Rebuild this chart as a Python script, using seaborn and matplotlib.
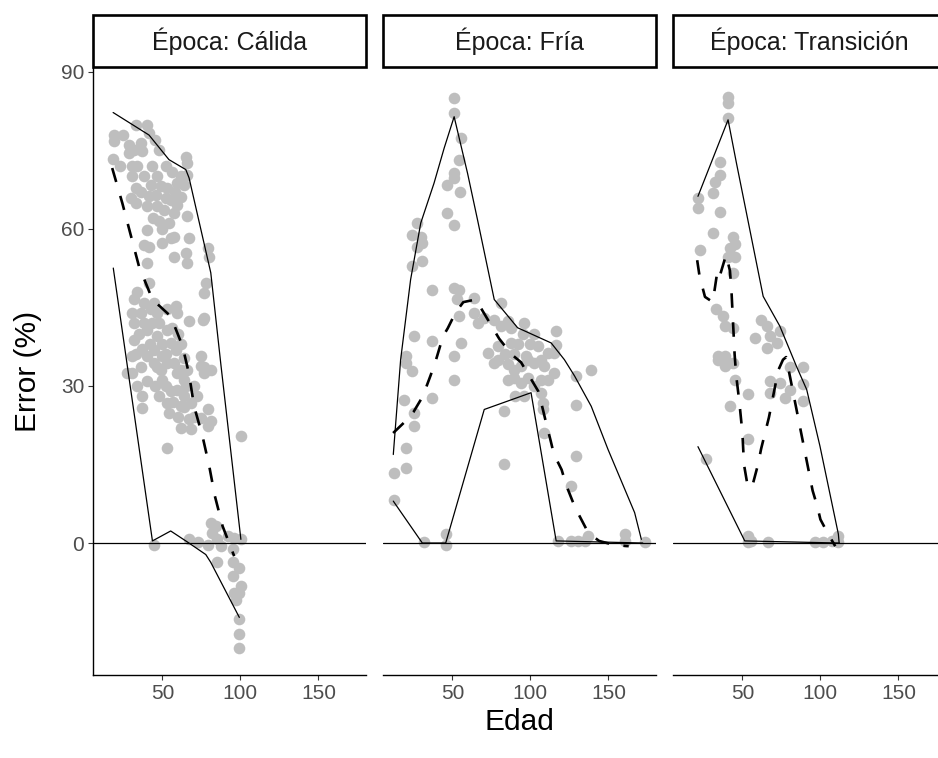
import matplotlib
matplotlib.use("Agg")
import matplotlib.pyplot as plt
import pandas as pd
import seaborn as sns
from matplotlib.patches import Rectangle

# Seasons shown as facets
epocas = ["Cálida", "Fría", "Transición"]

# Observed (Edad, Error %) pairs per season
puntos_calida = [
    (19, 78), (19, 76.7), (18.4, 73.3), (32.8, 79.8), (40.3, 79.8), (41.4, 78.2),
    (28.5, 76), (36, 76.3), (31.7, 75.1), (37.1, 74.8), (28.5, 74.4), (30.7, 71.9),
    (30.7, 70), (32.8, 67.8), (46.7, 70), (42.5, 68.4), (48.9, 68.1), (53.2, 67.8),
    (45.7, 66.5), (41.4, 66.2), (52.1, 65.9), (55.3, 65.5), (59.6, 64.6), (56.4, 70.9),
    (65, 73.8), (66, 72.5), (61.8, 70), (66, 70.3), (59.6, 68.7), (63.9, 68.4),
    (29.6, 65.9), (32.8, 64.9), (40.3, 64.3), (46.7, 64.3), (51, 63.6), (57.5, 63),
    (66, 62.4), (47.8, 61.4), (54.2, 61.1), (40.3, 59.8), (41.4, 56.6), (38.2, 56.9),
    (49.9, 57.3), (55.3, 58.2), (57.5, 58.5), (67.1, 58.2), (57.5, 54.7), (65, 55.4),
    (66, 53.5), (40.3, 53.5), (78.9, 56.3), (80, 54.7), (76.7, 47.7), (77.8, 49.6),
    (76.7, 43), (34, 72), (38, 70), (43, 72), (48, 75), (52, 72), (58, 67), (62, 66),
    (36, 67), (44, 62), (50, 60), (25, 78), (23, 72), (45, 77),
    (41.4, 49.6), (33.9, 48), (31.7, 46.5), (38.2, 45.8), (44.6, 45.8), (30.7, 43.9),
    (31.7, 42), (36, 43.9), (42.5, 44.6), (46.7, 43.9), (53.2, 44.6), (59.6, 43.9),
    (58.5, 45.2), (67.1, 42.3), (75.7, 42.6), (31.7, 38.8), (40.3, 40.7), (46.7, 39.5),
    (53.2, 40.7), (44.6, 36.9), (40.3, 35.7), (50, 35.7), (55.3, 38.2), (58.5, 36.9),
    (30.7, 35.7), (36, 33.7), (46.7, 33.7), (57.5, 34.4), (63.9, 35.3), (74.6, 35.7),
    (76.7, 33.7), (35, 40), (38, 42), (43, 42), (48, 42), (50, 38), (52, 36), (56, 41),
    (60, 40), (62, 38), (45, 30), (48, 28), (52, 30), (57, 27), (60, 24), (65, 30),
    (66, 33), (70, 30), (72, 28), (34, 30), (40, 31), (42, 38), (37, 37), (33, 36),
    (62, 33), (64, 26), (70, 24),
    (27.4, 32.5), (30.7, 32.5), (44.6, 34.4), (53.2, 34.4), (48.9, 33.1), (50, 31.2),
    (59.6, 32.5), (63.9, 31.2), (59.6, 29.3), (55.3, 29), (63.9, 28), (68.2, 26.8),
    (61.7, 26.1), (74.6, 33.8), (76.7, 32.5), (81, 33.1), (37.1, 28), (37.1, 25.8),
    (53.2, 26.8), (54.2, 24.9), (78.9, 25.5), (74.6, 23.9), (81, 23.3), (67.1, 23.6),
    (61.7, 22), (68.2, 21.7), (78.9, 22.3), (100.3, 20.4), (53.2, 18.2),
    (44.6, -0.3), (67.1, 0.7), (72.5, 0.1), (78.9, -0.3), (82.1, 1.9), (81, 3.9),
    (84.3, 3.2), (85.3, 0.7), (87.5, -0.6), (91.8, 1.3), (96, 1), (100.3, 0.7),
    (95, -1.2), (85.3, -3.7), (95, -3.7), (99.3, -4.7), (95, -6.3), (100.3, -8.2),
    (96, -9.5), (99.3, -9.5), (97.1, -10.8), (99.3, -14.6), (99.3, -17.4), (99.3, -20),
]

puntos_fria = [
    (51.1, 84.9), (51.1, 82.1), (55.4, 77.3), (54.3, 73.2), (51.1, 70.6), (51.1, 69.7),
    (46.8, 68.4), (55, 67.1), (46.8, 63), (51.1, 60.8), (27.5, 61.1), (24.3, 58.9),
    (29.7, 58.5), (30.7, 57.3), (27.5, 56.6), (30.7, 53.8), (24.3, 52.8), (37.2, 48.4),
    (51.1, 48.7), (54.3, 48.4), (53.2, 46.5), (64, 46.8), (81.1, 45.8), (54.3, 43.3),
    (64, 43.9), (66.1, 42), (70.4, 43), (76.8, 42.6), (81.1, 41.4), (85.4, 42.3),
    (87.5, 41), (96.1, 42), (116.5, 40.4), (25.4, 39.5), (37.2, 38.5), (55.4, 38.2),
    (72.5, 36.3), (79, 37.6), (79, 35), (87.5, 38.2), (89.7, 36), (97.2, 35.7),
    (104.7, 37.6), (106.8, 35), (111.1, 36.3), (51.1, 35.7), (20, 35.7), (116.5, 37.8),
    (115.4, 36.3), (139, 33.1), (92, 38), (100, 38), (95, 40), (84, 36), (102, 40),
    (90, 28), (96, 28),
    (20, 34.4), (24.3, 32.8), (51.1, 31.2), (76.8, 34.4), (85.4, 34.1), (89.7, 33.1),
    (94, 33.8), (98.3, 35), (102.5, 34.4), (109, 33.8), (115.4, 32.5), (111.1, 31.2),
    (85.4, 31.2), (89.7, 31.5), (94, 30.6), (98.3, 31.5), (102.5, 30), (106.8, 31.2),
    (106.8, 28.7), (107.9, 26.8), (107.9, 25.5), (19, 27.4), (37.2, 27.7),
    (129.3, 31.9), (129.3, 26.4), (83.2, 25.2), (25.4, 24.9), (25.4, 22.3), (109, 21),
    (20, 18.2), (83.2, 15), (129.3, 16.6), (126.1, 10.9), (12.5, 13.4), (20, 14.4),
    (12.5, 8.3), (31.8, 0.1), (45.7, 1.7), (45.7, -0.3), (117.5, 0.4), (126.1, 0.4),
    (130.4, 0.4), (134.7, 0.4), (136.8, 1.3), (160.4, 1.7), (160.4, 0.4), (173.3, 0.1),
]

puntos_transicion = [
    (40.8, 85.2), (40.8, 84), (40.8, 81.1), (35.4, 72.8), (35.4, 70.3), (32.2, 69),
    (31.2, 66.8), (21.5, 65.8), (21.5, 63.9), (35.4, 63.3), (31.2, 59.2), (44, 58.5),
    (41.9, 56.3), (45.1, 57), (40.8, 54.7), (45.1, 54.7), (44, 51.5), (22.6, 56),
    (33.3, 44.6), (37.6, 43.3), (38.7, 41.4), (44, 41.1), (62.2, 42.6), (65.5, 41.4),
    (58, 39.2), (67.6, 39.5), (71.9, 38.2), (74, 40.4), (65.5, 37.2), (34.4, 35.7),
    (38.7, 35.7), (40.8, 34.4), (80.5, 33.7), (89, 33.7),
    (34.4, 35), (38.7, 33.8), (44, 34.4), (45.1, 31.2), (53.7, 28.4), (41.9, 26.1),
    (67.6, 30.9), (74, 30.6), (67.6, 28.7), (80.5, 29.3), (77.2, 27.7), (89, 27.1),
    (89, 30.3), (53.7, 19.8), (26.9, 16), (53.7, 1.3), (55.8, 0.4), (53.7, 0.1),
    (66.5, 0.2), (96.5, 0.1), (101.9, 0.1), (107.3, 0.4), (111.5, 1.3), (111.5, 0.1),
]

# Summary curves per season: upper envelope, mean and lower envelope
sup_calida = [(18.4, 82.2), (41.4, 77.9), (54.2, 73.2), (65, 71.3), (67.1, 69.7),
              (81, 51.6), (87.5, 34), (100.3, 0.7)]
media_calida = [(17.8, 71.6), (24.3, 64.9), (29.6, 58.9), (35, 52.8), (43.6, 46.5),
                (55.3, 43.3), (62.9, 37.6), (67.1, 32.2), (70.3, 26.1), (75.7, 20.4),
                (80, 14.7), (83.6, 9.0), (88.6, 3.2), (96, -2.5)]
inf_calida = [(18.5, 52.5), (43.6, 0.4), (55.3, 2.3), (66, 0.2), (77.8, -2.2),
              (81, -3.7), (99.3, -14.2)]

sup_fria = [(12.1, 16.9), (16.8, 35), (23.2, 50.3), (29.7, 61.1), (38.2, 68.7),
            (44.7, 75.4), (51.1, 81.4), (59.7, 70.6), (66.1, 61.7), (76.8, 46.5),
            (91.8, 41.1), (113.3, 38.2), (121.8, 35), (128.3, 31.9), (139, 26.1),
            (149.7, 17.9), (166.8, 5.8), (171.1, 0.7)]
media_fria = [(12, 21), (19, 23), (25, 25), (31, 28), (36, 32), (39, 34.5), (44, 39.5),
              (47, 41), (52, 44), (57, 46), (65, 46.5), (70, 44), (76, 41), (80, 39),
              (88, 36), (94, 34.5), (101, 31), (105, 29), (108, 25.5), (110, 23),
              (113, 19.5), (115, 17), (120, 14), (123, 11), (127, 8), (130, 6),
              (137, 2), (144, 0.4), (154, -0.4), (163, -0.6)]
inf_fria = [(12.1, 8), (30.7, 0), (45.7, 0), (70.4, 25.5), (100.4, 28.7), (116.5, 0.4),
            (172, 0)]

sup_transicion = [(21.5, 66.2), (40.8, 80.8), (46.2, 72.5), (52.6, 63), (63.3, 47.1),
                  (74, 41.4), (84.7, 33.7), (91.2, 29.3), (99.7, 18.5), (111.5, 1.7),
                  (112, 0)]
media_transicion = [(21, 54), (22.5, 51), (26, 47), (31, 46), (34, 52), (35.5, 51),
                    (39.5, 55), (42, 52), (43, 48), (44, 42), (45, 36), (46, 32),
                    (48, 27), (50, 21), (51, 15), (53, 11.5), (56, 10.5), (60, 15),
                    (62, 18), (64.5, 21), (67, 24), (69, 27), (71, 30), (73, 33),
                    (76, 35), (78, 35.5), (81, 31), (83, 28), (85, 25), (87, 22),
                    (89, 19), (91, 16), (93, 13), (95, 10), (98, 7), (100, 4.5),
                    (105, 1.7), (109.5, -0.6)]
inf_transicion = [(21.5, 18.4), (51.5, 0.4), (112, 0)]

ticks_x = [50, 100, 150]
ticks_y = [0, 30, 60, 90]

# Long-format tables
obs = pd.DataFrame(
    [(ep, e, err)
     for ep, pts in zip(epocas, [puntos_calida, puntos_fria, puntos_transicion])
     for e, err in pts],
    columns=["Época", "Edad", "Error"],
)
curvas = {
    "Cálida": {"sup": sup_calida, "media": media_calida, "inf": inf_calida},
    "Fría": {"sup": sup_fria, "media": media_fria, "inf": inf_fria},
    "Transición": {"sup": sup_transicion, "media": media_transicion, "inf": inf_transicion},
}
lineas = pd.DataFrame(
    [(ep, nombre, e, err)
     for ep, d in curvas.items()
     for nombre, pts in d.items()
     for e, err in pts],
    columns=["Época", "Curva", "Edad", "Error"],
)

sns.set_theme(style="ticks")
plt.rcParams["font.family"] = ["Liberation Sans", "DejaVu Sans"]

W, H = 938, 758
fig = plt.figure(figsize=(W / 100, H / 100), dpi=100)
top, bottom = 68, 675
lefts = [93, 383, 673]
pw = 273
strip_h = 54

estilos = {"sup": ("-", 0.9), "inf": ("-", 0.9), "media": ((0, (5.5, 5.5)), 1.9)}

for i, ep in enumerate(epocas):
    ax = fig.add_axes([lefts[i] / W, 1 - bottom / H, pw / W, (bottom - top) / H])
    sub = obs[obs["Época"] == ep]
    sns.scatterplot(data=sub, x="Edad", y="Error", color="#BEBEBE", s=70,
                    linewidth=0, ax=ax, zorder=2)
    ax.axhline(0, color="black", lw=0.9, zorder=3)
    for nombre in ["sup", "inf", "media"]:
        d = lineas[(lineas["Época"] == ep) & (lineas["Curva"] == nombre)]
        ls, lw = estilos[nombre]
        sns.lineplot(data=d, x="Edad", y="Error", sort=False, estimator=None,
                     color="black", lw=lw, linestyle=ls, ax=ax, zorder=4)

    ax.set_xlim(5.5, 180.5)
    ax.set_ylim(-25.2, 90.7)
    ax.set_xticks(ticks_x)
    ax.set_yticks(ticks_y)
    ax.set_xlabel("")
    ax.set_ylabel("")
    for s in ["top", "right"]:
        ax.spines[s].set_visible(False)
    ax.spines["bottom"].set_color("black")
    ax.spines["bottom"].set_linewidth(1.0)
    ax.tick_params(axis="x", length=3.3, width=0.8, color="#333333",
                   labelcolor="#4D4D4D", labelsize=15, pad=3)
    if i == 0:
        ax.spines["left"].set_color("black")
        ax.spines["left"].set_linewidth(1.0)
        ax.tick_params(axis="y", length=3.3, width=0.8, color="#333333",
                       labelcolor="#4D4D4D", labelsize=15, pad=3)
    else:
        ax.spines["left"].set_visible(False)
        ax.tick_params(axis="y", left=False, labelleft=False)

    # facet strip
    ph = bottom - top
    ax.add_patch(Rectangle((0, 1 + 1.5 / ph), 1, (strip_h - 3) / ph,
                           transform=ax.transAxes, clip_on=False,
                           facecolor="white", edgecolor="black", lw=1.9))
    ax.text(0.5, 1 + (strip_h / 2) / ph, f"Época: {ep}", transform=ax.transAxes,
            ha="center", va="center", fontsize=18, color="#1A1A1A")

fig.text(28 / W, 1 - 371.5 / H, "Error (%)", rotation=90, ha="center",
         va="center", fontsize=21.5, color="black")
fig.text(519.5 / W, 1 - 722 / H, "Edad", ha="center", va="center",
         fontsize=21.5, color="black")

fig.savefig("out.png", dpi=100, facecolor="white")
